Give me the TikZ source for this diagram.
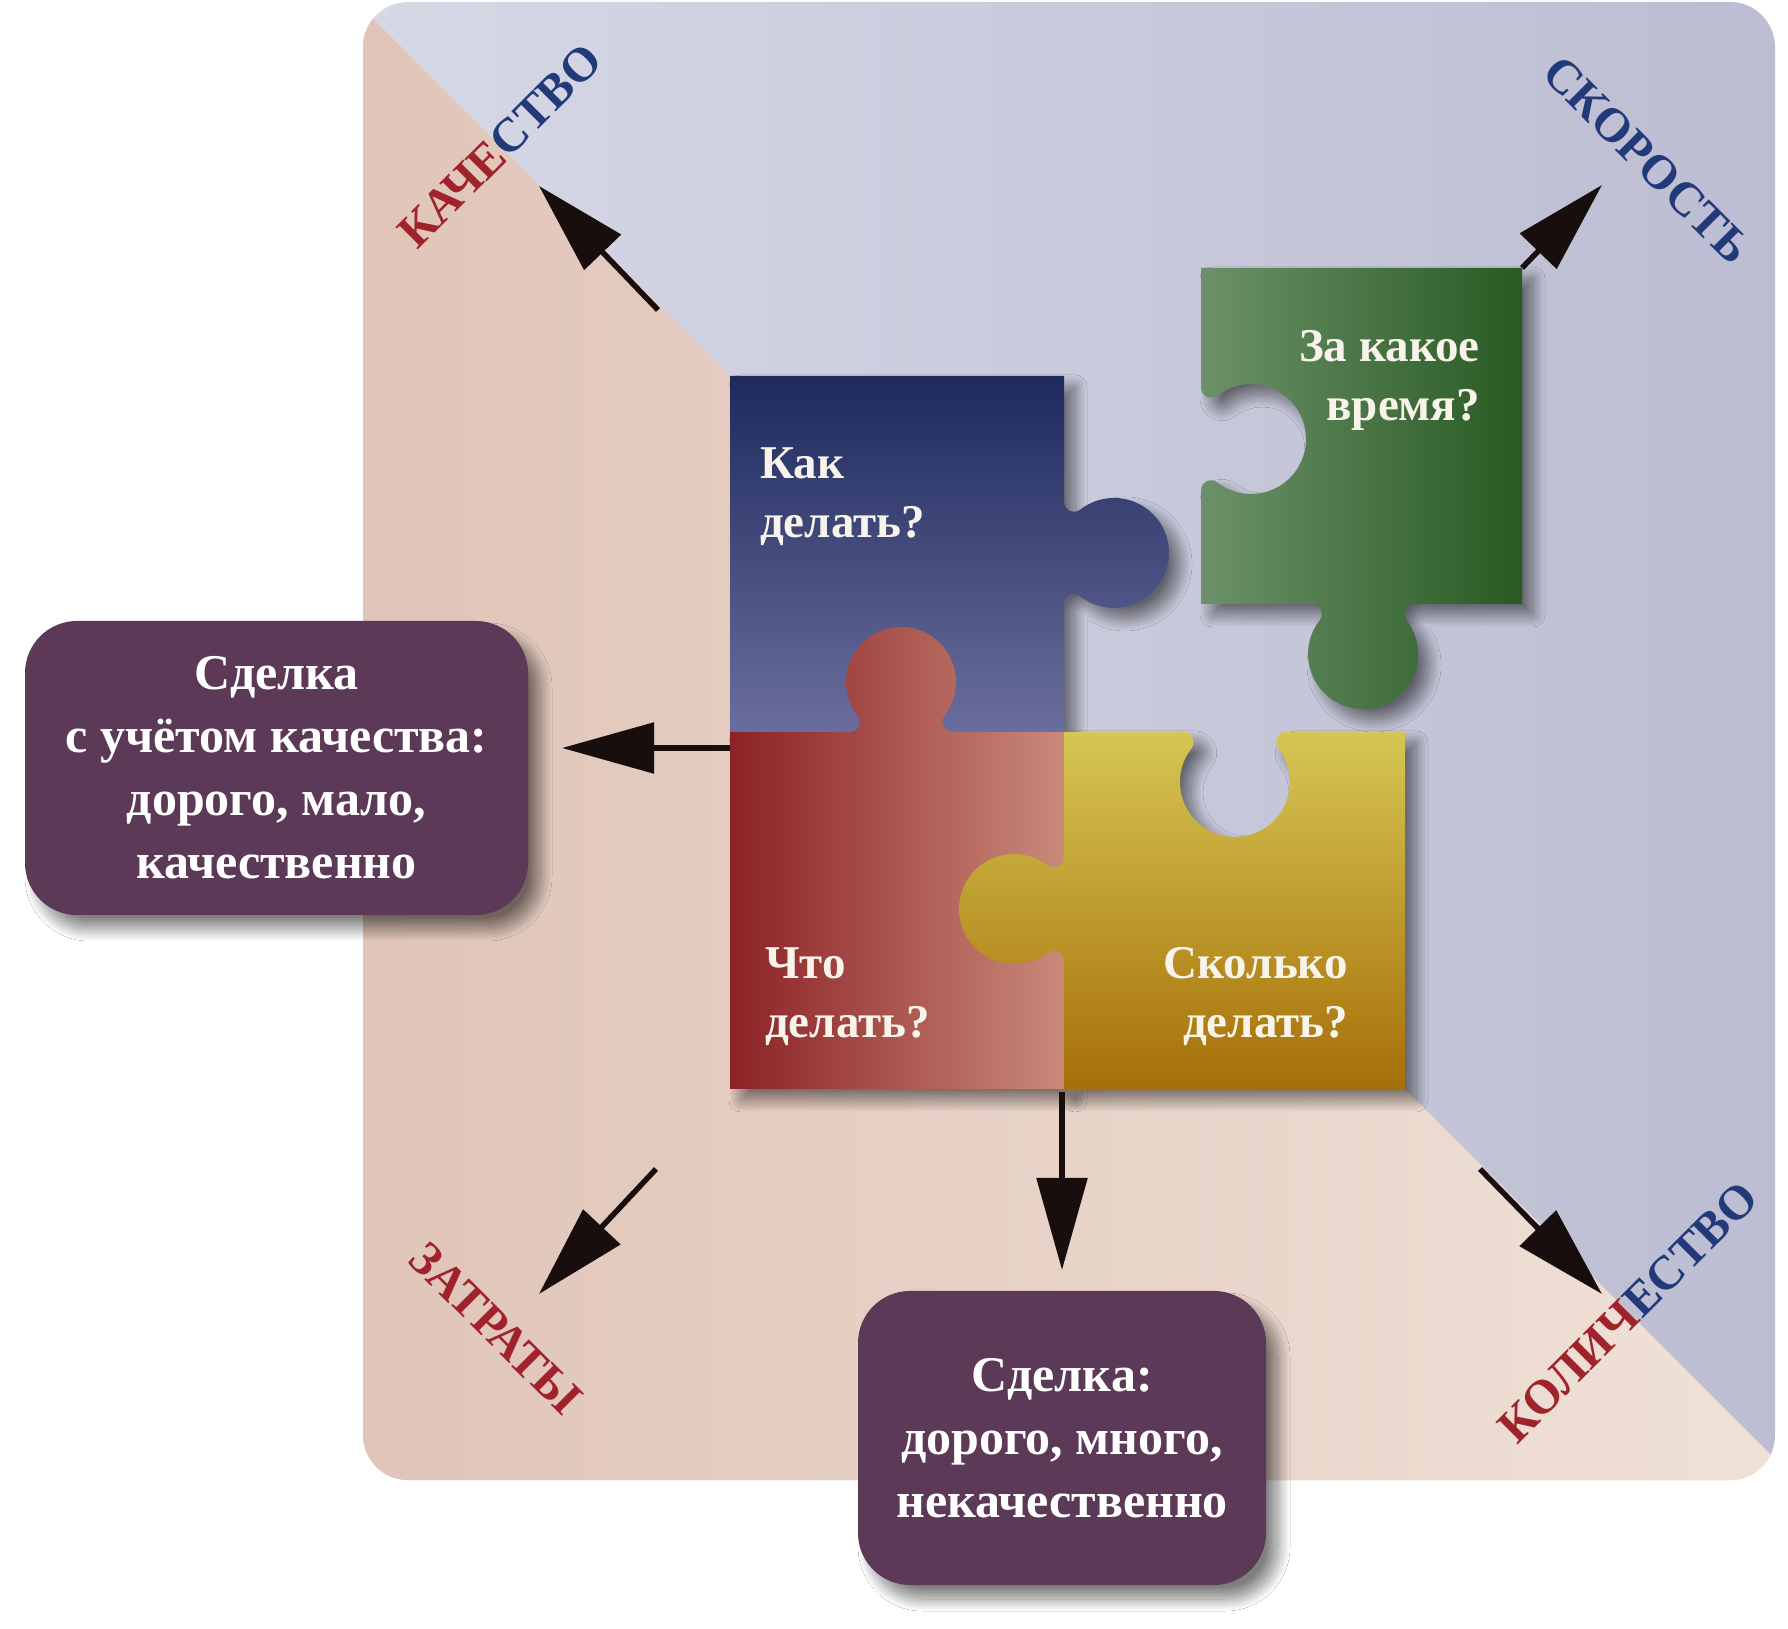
\documentclass[tikz,border=0pt]{standalone}
\usepackage{fontspec}
\setmainfont{Liberation Serif}
\usetikzlibrary{arrows.meta,shadows.blur}
\definecolor{lavL}{RGB}{214,216,230}
\definecolor{lavR}{RGB}{188,189,210}
\definecolor{pinkL}{RGB}{224,196,184}
\definecolor{pinkR}{RGB}{240,226,216}
\definecolor{blueT}{RGB}{30,42,92}
\definecolor{blueB}{RGB}{106,110,158}
\definecolor{redL}{RGB}{140,34,37}
\definecolor{redR}{RGB}{201,138,122}
\definecolor{yelT}{RGB}{214,198,83}
\definecolor{yelB}{RGB}{166,111,8}
\definecolor{grnL}{RGB}{108,145,106}
\definecolor{grnR}{RGB}{40,90,34}
\definecolor{boxc}{RGB}{92,57,87}
\definecolor{lblred}{RGB}{160,34,42}
\definecolor{lblblue}{RGB}{35,58,122}
\definecolor{txtw}{RGB}{248,244,236}
\definecolor{arrc}{RGB}{24,14,14}
\begin{document}
\begin{tikzpicture}[x=1pt,y=1pt,
  arr/.style={line width=5.5pt,draw=arrc,-{Triangle[length=92pt,width=50pt]}},
  puz/.style={text=txtw,font=\fontsize{47}{59}\selectfont\bfseries,inner sep=0pt},
  dealbox/.style={fill=boxc,rounded corners=52pt,text=white,
    font=\fontsize{50}{63}\selectfont\bfseries,align=center,inner sep=0pt,
    blur shadow={shadow xshift=12pt,shadow yshift=-14pt,shadow blur radius=12pt,shadow opacity=50,shadow blur steps=24}},
  lbl/.style={font=\fontsize{48}{58}\selectfont\bfseries,inner sep=0pt},
  pshadow/.style={blur shadow={shadow xshift=11pt,shadow yshift=-11pt,shadow blur radius=12pt,shadow opacity=50,shadow blur steps=24}}]
\useasboundingbox (0,0) rectangle (1788,1628);
\fill[white] (0,0) rectangle (1788,1628);
% background
\shade[left color=lavL,right color=lavR,rounded corners=45pt] (363,148) rectangle (1775,1626);
\begin{scope}
  \clip[rounded corners=45pt] (363,148) rectangle (1775,1626);
  \shade[left color=pinkL,right color=pinkR] (330,1652) -- (730,1252) -- (730,539) -- (1405,539) -- (1830,114) -- (330,114) -- cycle;
\end{scope}
% puzzle paths
\def\bluepath{(730,896) -- (1064,896) -- (1064,1023.8) arc[start angle=180,end angle=52,radius=10pt] arc[start angle=-128,end angle=128,radius=55pt] arc[start angle=-52,end angle=-180,radius=10pt] -- (1064,1252) -- (730,1252) -- cycle}
\def\redpath{(730,539) -- (1064,539) -- (1064,896) -- (952.2,896) arc[start angle=270,end angle=142,radius=10pt] arc[start angle=-38,end angle=218,radius=55pt] arc[start angle=38,end angle=-90,radius=10pt] -- (730,896) -- cycle}
\def\yelpath{(1064,539) -- (1405,539) -- (1405,896) -- (1286.2,896) arc[start angle=90,end angle=218,radius=10pt] arc[start angle=38,end angle=-218,radius=55pt] arc[start angle=-38,end angle=90,radius=10pt] -- (1064,896) -- (1064,770.2) arc[start angle=360,end angle=232,radius=10pt] arc[start angle=52,end angle=308,radius=55pt] arc[start angle=128,end angle=0,radius=10pt] -- cycle}
\def\grnpath{(1201,1024) -- (1311.8,1024) arc[start angle=90,end angle=-38,radius=10pt] arc[start angle=-218,end angle=38,radius=55pt] arc[start angle=-142,end angle=-270,radius=10pt] -- (1522,1024) -- (1522,1360) -- (1201,1360) -- (1201,1240.2) arc[start angle=-180,end angle=-52,radius=10pt] arc[start angle=128,end angle=-128,radius=55pt] arc[start angle=52,end angle=180,radius=10pt] -- cycle}
% shadows
\path[pshadow] \grnpath;
\path[pshadow] \bluepath;
\path[pshadow] \redpath;
\path[pshadow] \yelpath;
% pieces
\shade[left color=grnL,right color=grnR] \grnpath;
\shade[top color=blueT,bottom color=blueB] \bluepath;
\shade[left color=redL,right color=redR] \redpath;
\shade[top color=yelT,bottom color=yelB] \yelpath;
% puzzle texts
\node[puz,anchor=west,align=left] (tkak) at (760,1131) {Как\\делать?};
\node[puz,anchor=east,align=right] (tza) at (1480,1248) {За какое\\время?};
\node[puz,anchor=west,align=left] (tchto) at (765,631) {Что\\делать?};
\node[puz,anchor=east,align=right] (tskol) at (1348,631) {Сколько\\делать?};
% deal boxes
\node[dealbox,minimum width=503pt,minimum height=294pt] (boxq) at (276.5,860) {Сделка\\с учётом качества:\\дорого, мало,\\качественно};
\node[dealbox,minimum width=408pt,minimum height=294pt] (boxm) at (1062,190) {Сделка:\\дорого, много,\\некачественно};
% labels
\node[lbl,rotate=45] (kach) at (500,1482) {\textcolor{lblred}{КАЧЕ}\textcolor{lblblue}{СТВО}};
\node[lbl,rotate=-45,text=lblblue] (skor) at (1647,1468) {СКОРОСТЬ};
\node[lbl,rotate=-45,text=lblred] (zatr) at (496,300) {ЗАТРАТЫ};
\node[lbl,rotate=45] (kol) at (1628,316) {\textcolor{lblred}{КОЛИЧ}\textcolor{lblblue}{ЕСТВО}};
% arrows
\coordinate (a1s) at (658,1318); \coordinate (a1e) at (539,1442);
\coordinate (gcorner) at (1522,1360); \coordinate (a2e) at (1602,1443);
\coordinate (a3s) at (730,880); \coordinate (a3e) at (562,880);
\coordinate (a4s) at (1062,536); \coordinate (a4e) at (1062,358);
\coordinate (a5s) at (656,459); \coordinate (a5e) at (539,334);
\coordinate (a6s) at (1480,459); \coordinate (a6e) at (1602,334);
\draw[arr] (a1s) -- (a1e);
\draw[arr] (gcorner) -- (a2e);
\draw[arr] (a3s) -- (a3e);
\draw[arr] (a4s) -- (a4e);
\draw[arr] (a5s) -- (a5e);
\draw[arr] (a6s) -- (a6e);
\end{tikzpicture}
\end{document}
